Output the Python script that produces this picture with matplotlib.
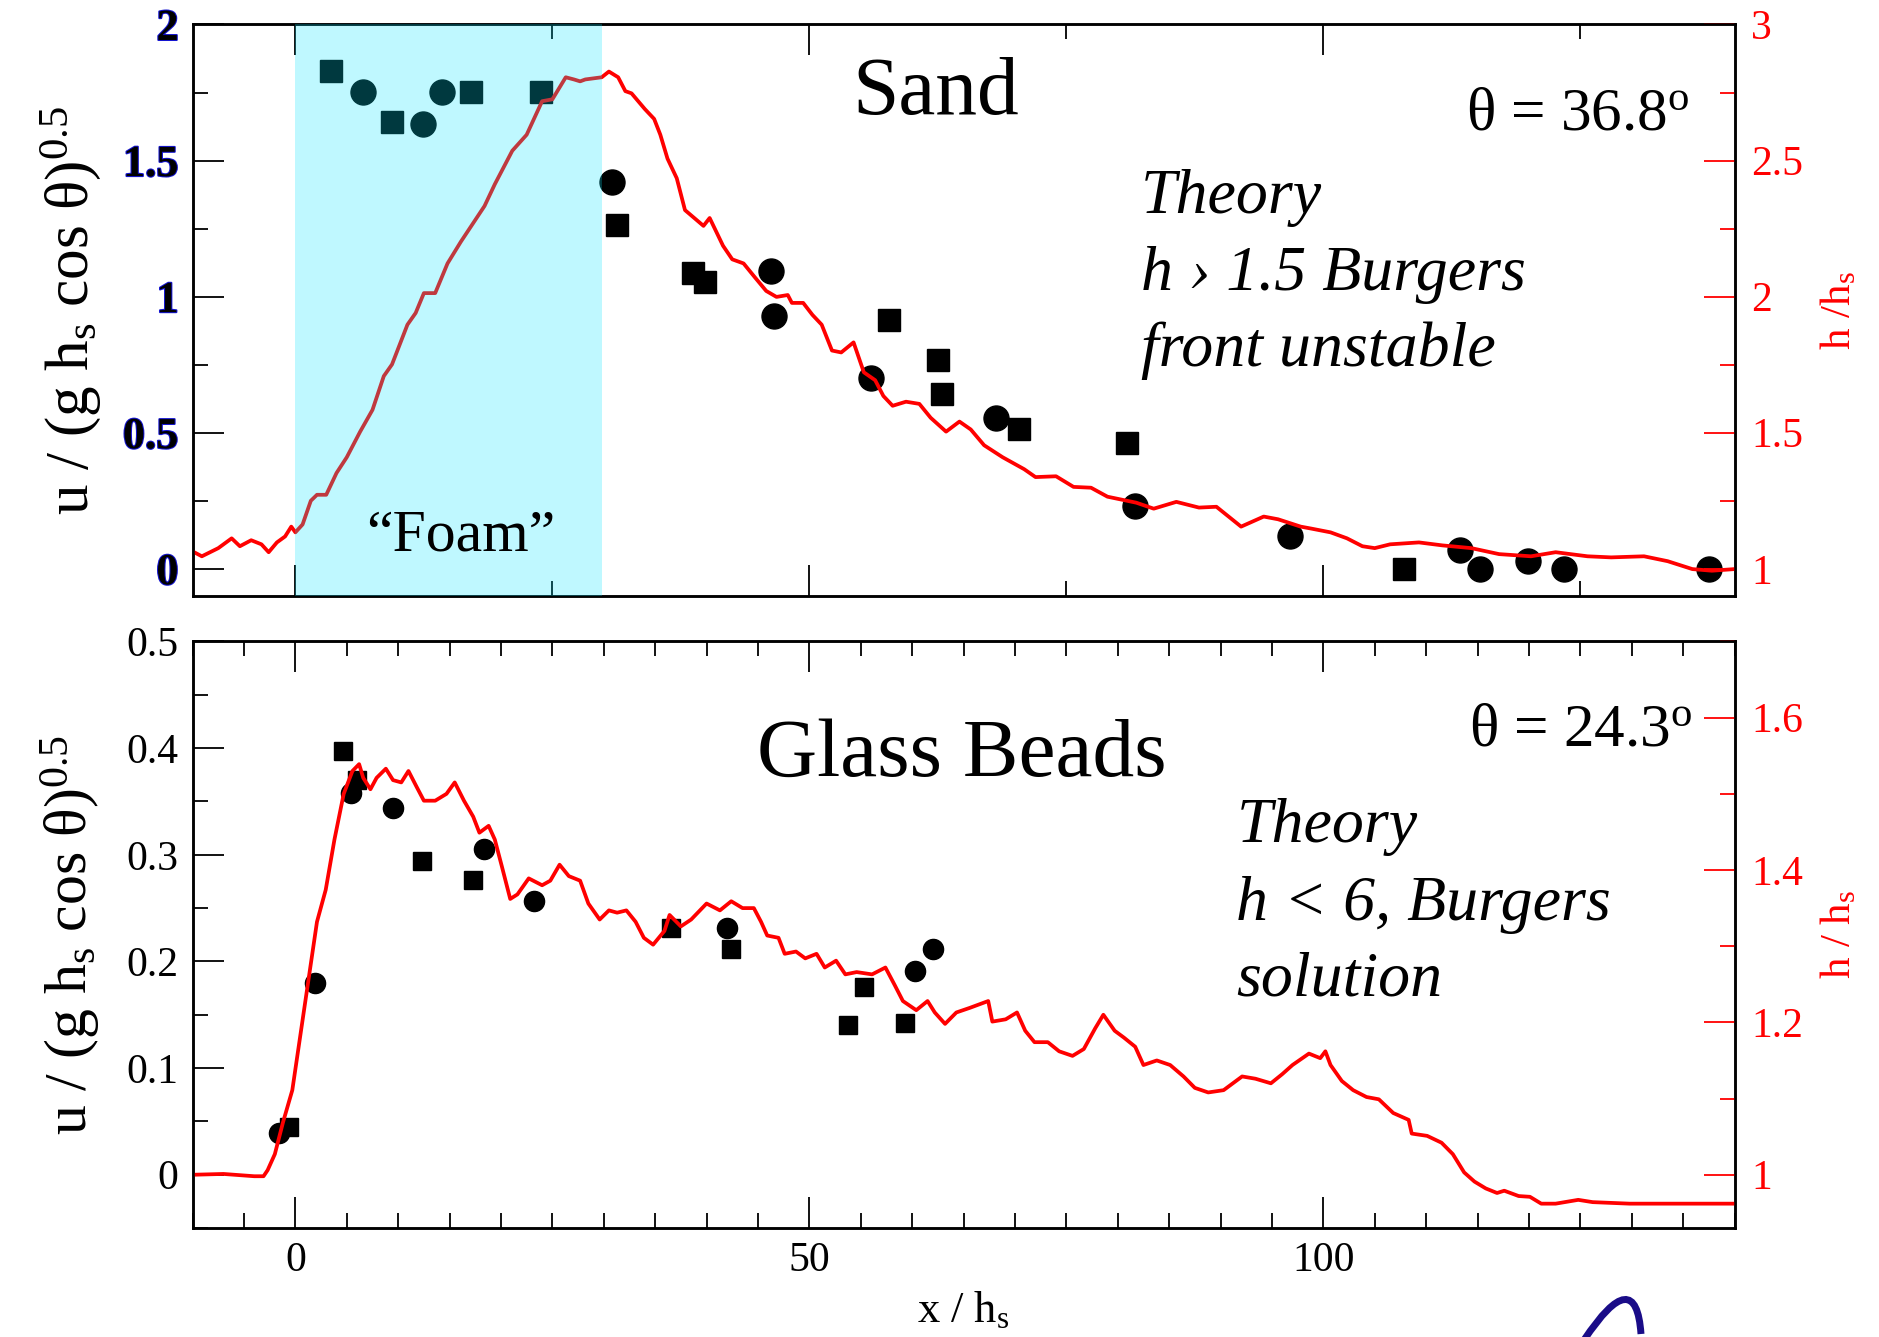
import matplotlib
matplotlib.use("Agg")
import matplotlib.pyplot as plt
import matplotlib.ticker as ticker
import matplotlib.patheffects as pe
from matplotlib.path import Path
from matplotlib.patches import PathPatch

plt.rcParams["font.family"] = ["Liberation Serif", "DejaVu Serif"]
plt.rcParams["mathtext.fontset"] = "custom"
plt.rcParams["mathtext.rm"] = "Liberation Serif"
plt.rcParams["mathtext.it"] = "Liberation Serif:italic"

# --- Sand, theta = 36.8 deg ---
sand_sq_x = [3.5, 9.4, 17.1, 23.9, 31.3, 38.7, 39.8, 57.7, 62.5, 62.9, 70.4, 80.9, 107.8]
sand_sq_u = [1.83, 1.64, 1.752, 1.752, 1.265, 1.086, 1.054, 0.914, 0.769, 0.643, 0.512, 0.461, 0.0]
sand_ci_x = [6.6, 12.4, 14.3, 30.8, 46.3, 46.6, 56.0, 68.2, 81.7, 96.8, 113.3, 115.2, 119.9, 123.4, 137.5]
sand_ci_u = [1.752, 1.633, 1.752, 1.42, 1.093, 0.93, 0.70, 0.555, 0.231, 0.119, 0.068, 0.0, 0.028, 0.0, 0.0]

sand_h_x = [-9.85, -9.1, -7.5, -6.2, -5.4, -4.3, -3.3, -2.6, -1.8, -1.0, -0.4, 0.0, 0.7, 1.5,
            2.1, 3.0, 4.0, 5.0, 6.3, 7.5, 8.6, 9.4, 10.9, 11.7, 12.5, 13.6, 14.8, 16.1, 18.4,
            19.4, 21.1, 22.5, 24.0, 25.0, 26.3, 27.1, 27.7, 28.2, 29.8, 30.5, 31.4, 32.1, 32.7,
            34.0, 34.9, 35.5, 36.2, 37.1, 37.9, 39.7, 40.3, 41.6, 42.5, 43.6, 44.7, 45.8, 46.8,
            47.9, 48.3, 49.4, 50.3, 51.2, 52.2, 53.1, 54.3, 55.3, 56.4, 57.2, 58.1, 59.4, 60.7,
            61.8, 63.3, 64.6, 65.7, 67.0, 68.8, 70.9, 72.0, 74.0, 75.7, 77.4, 79.0, 81.8, 83.5,
            85.7, 87.9, 89.6, 92.0, 94.2, 95.6, 97.8, 98.8, 100.7, 102.3, 103.8, 105.0, 106.5,
            109.3, 111.6, 114.4, 117.1, 120.2, 122.6, 125.7, 128.0, 131.2, 133.5, 135.9, 137.8, 140.0]
sand_h = [1.061, 1.046, 1.076, 1.112, 1.083, 1.105, 1.09, 1.061, 1.097, 1.119, 1.155, 1.134, 1.163, 1.25,
          1.272, 1.272, 1.352, 1.41, 1.504, 1.584, 1.708, 1.751, 1.897, 1.94, 2.013, 2.013, 2.122, 2.202, 2.333,
          2.413, 2.536, 2.595, 2.718, 2.725, 2.806, 2.798, 2.791, 2.798, 2.806, 2.827, 2.806, 2.755, 2.747,
          2.689, 2.653, 2.595, 2.507, 2.435, 2.318, 2.26, 2.289, 2.187, 2.137, 2.122, 2.071, 2.021, 1.999,
          2.006, 1.977, 1.977, 1.933, 1.897, 1.802, 1.795, 1.832, 1.722, 1.693, 1.635, 1.599, 1.614, 1.606,
          1.555, 1.504, 1.541, 1.512, 1.454, 1.41, 1.366, 1.337, 1.34, 1.301, 1.298, 1.265, 1.243, 1.221,
          1.246, 1.225, 1.228, 1.155, 1.192, 1.182, 1.155, 1.148, 1.134, 1.112, 1.083, 1.076, 1.09,
          1.097, 1.086, 1.076, 1.054, 1.046, 1.061, 1.046, 1.042, 1.046, 1.028, 0.999, 0.993, 0.999]

# --- Glass beads, theta = 24.3 deg ---
glass_sq_x = [-0.6, 4.6, 6.0, 12.3, 17.3, 36.5, 42.4, 53.8, 55.3, 59.3]
glass_sq_u = [0.045, 0.397, 0.37, 0.294, 0.276, 0.231, 0.212, 0.140, 0.176, 0.142]
glass_ci_x = [-1.6, 1.9, 5.4, 9.5, 18.3, 23.2, 42.0, 60.3, 62.0]
glass_ci_u = [0.039, 0.180, 0.358, 0.344, 0.305, 0.257, 0.231, 0.191, 0.212]

glass_h_x = [-9.8, -7.0, -4.0, -3.1, -2.7, -2.0, -1.2, -0.3, 0.35, 1.2, 2.1, 2.95, 3.8, 4.7, 5.55,
             6.2, 6.6, 7.3, 7.9, 8.8, 9.5, 10.3, 11.0, 11.8, 12.5, 13.6, 14.7, 15.5, 16.4, 17.3,
             17.9, 18.8, 19.4, 20.1, 20.9, 21.6, 22.7, 24.0, 24.8, 25.7, 26.6, 27.7, 28.5, 29.6,
             30.5, 31.3, 32.2, 33.1, 33.9, 34.8, 35.9, 36.4, 37.5, 38.5, 40.0, 41.3, 42.4, 43.5,
             44.6, 45.3, 45.9, 47.0, 47.6, 48.7, 49.6, 50.7, 51.5, 52.6, 53.5, 54.6, 56.1, 57.4,
             58.3, 59.1, 60.4, 61.5, 62.2, 63.2, 64.3, 65.6, 67.4, 67.8, 69.1, 70.2, 71.0, 71.9,
             73.2, 74.3, 75.6, 76.7, 77.8, 78.6, 79.7, 80.6, 81.7, 82.5, 83.8, 85.1, 86.4, 87.5,
             88.8, 90.3, 92.1, 93.4, 94.9, 96.0, 97.0, 98.6, 99.7, 100.2, 100.7, 101.8, 102.9,
             104.2, 105.4, 106.8, 108.3, 108.6, 110.1, 111.5, 112.6, 113.7, 114.7, 115.8, 116.9,
             117.6, 119.0, 120.1, 121.2, 122.6, 124.8, 126.2, 129.8, 133.4, 140.0]
glass_h = [1.0, 1.001, 0.998, 0.998, 1.006, 1.027, 1.069, 1.111, 1.171, 1.249, 1.332, 1.374, 1.44, 1.50, 1.53,
           1.539, 1.521, 1.506, 1.521, 1.533, 1.518, 1.515, 1.53, 1.509, 1.491, 1.491, 1.50, 1.515, 1.491, 1.47,
           1.449, 1.458, 1.44, 1.404, 1.362, 1.368, 1.389, 1.38, 1.386, 1.407, 1.392, 1.386, 1.356, 1.335,
           1.347, 1.344, 1.347, 1.332, 1.311, 1.302, 1.32, 1.341, 1.326, 1.335, 1.356, 1.347, 1.359, 1.35,
           1.35, 1.332, 1.314, 1.311, 1.29, 1.293, 1.284, 1.29, 1.272, 1.281, 1.263, 1.266, 1.263, 1.272,
           1.249, 1.228, 1.216, 1.228, 1.213, 1.198, 1.213, 1.219, 1.228, 1.201, 1.204, 1.213, 1.189, 1.174,
           1.174, 1.162, 1.156, 1.165, 1.192, 1.21, 1.189, 1.18, 1.168, 1.144, 1.15, 1.144, 1.129, 1.114,
           1.108, 1.111, 1.129, 1.126, 1.12, 1.132, 1.144, 1.159, 1.153, 1.162, 1.144, 1.123, 1.111,
           1.102, 1.099, 1.081, 1.072, 1.054, 1.051, 1.042, 1.027, 1.003, 0.991, 0.982, 0.976,
           0.979, 0.972, 0.971, 0.962, 0.962, 0.967, 0.964, 0.962, 0.962, 0.962]

RED = "#ff0000"
TICK_FS = 30

fig = plt.figure(figsize=(18.79, 13.37), dpi=100)
ax_top = fig.add_axes([0.1025, 0.5542, 0.8206, 0.4275])
ax_bot = fig.add_axes([0.1025, 0.0815, 0.8206, 0.4387])
top_h = ax_top.twinx()
bot_h = ax_bot.twinx()

fmt = ticker.FormatStrFormatter("%g")


def style_axes(ax, axh, x_minor, y_major, y_minor, h_major, h_minor):
    for a in (ax, axh):
        for s in a.spines.values():
            s.set_linewidth(1.8)
    ax.set_xlim(-10, 140)
    ax.xaxis.set_major_locator(ticker.MultipleLocator(50))
    ax.xaxis.set_minor_locator(ticker.MultipleLocator(x_minor))
    ax.yaxis.set_major_locator(ticker.MultipleLocator(y_major))
    ax.yaxis.set_minor_locator(ticker.MultipleLocator(y_minor))
    ax.yaxis.set_major_formatter(fmt)
    ax.tick_params(which="both", direction="in", top=True, bottom=True,
                   left=True, right=False, width=1.3, labelsize=TICK_FS)
    ax.tick_params(which="major", length=22)
    ax.tick_params(which="minor", length=11)
    ax.tick_params(axis="y", pad=10)
    ax.tick_params(axis="x", pad=10)
    axh.yaxis.set_major_locator(ticker.MultipleLocator(h_major))
    axh.yaxis.set_minor_locator(ticker.MultipleLocator(h_minor))
    axh.yaxis.set_major_formatter(fmt)
    axh.tick_params(which="both", direction="in", color=RED, labelcolor=RED,
                    width=1.3, labelsize=TICK_FS, pad=12)
    axh.tick_params(which="major", length=22)
    axh.tick_params(which="minor", length=11)


# ---------------- top panel: sand ----------------
style_axes(ax_top, top_h, 25, 0.5, 0.25, 0.5, 0.25)
ax_top.set_ylim(-0.1, 2.0)
top_h.set_ylim(0.9, 3.0)
ax_top.tick_params(axis="x", labelbottom=False)
for lab in ax_top.get_yticklabels():
    lab.set_fontweight("bold")
    lab.set_fontsize(32)
    lab.set_path_effects([pe.withStroke(linewidth=1.5, foreground="#1515d0")])

ax_top.plot(sand_sq_x, sand_sq_u, "s", color="black", ms=16, zorder=3)
ax_top.plot(sand_ci_x, sand_ci_u, "o", color="black", ms=18, zorder=3)
top_h.plot(sand_h_x, sand_h, color=RED, lw=2.7, solid_joinstyle="round")

# translucent cyan band over the foam region (drawn over markers and line)
top_h.axvspan(0, 29.8, color=(0.0, 0.9, 1.0), alpha=0.25, lw=0, zorder=10)

ax_top.set_ylabel(r"u / (g h$_\mathrm{s}$ cos θ)$^{0.5}$", fontsize=44)
ax_top.yaxis.set_label_coords(-0.058, 0.5)
top_h.set_ylabel(r"h /h$_\mathrm{s}$", fontsize=31, color=RED)
top_h.yaxis.set_label_coords(1.055, 0.5)

top_h.text(0.482, 0.843, "Sand", transform=top_h.transAxes, fontsize=60,
           ha="center", va="baseline", zorder=12)
top_h.text(0.971, 0.817, r"θ = 36.8$^\mathrm{o}$", transform=top_h.transAxes,
           fontsize=44, ha="right", va="baseline", zorder=12)
for txt, yy in zip(["Theory", "h › 1.5 Burgers", "front unstable"], [0.670, 0.535, 0.403]):
    top_h.text(0.615, yy, txt, transform=top_h.transAxes, fontsize=46,
               style="italic", ha="left", va="baseline", zorder=12)
top_h.text(0.174, 0.079, "“Foam”", transform=top_h.transAxes, fontsize=43,
           ha="center", va="baseline", zorder=12)

# ---------------- bottom panel: glass beads ----------------
style_axes(ax_bot, bot_h, 5, 0.1, 0.05, 0.2, 0.1)
ax_bot.set_ylim(-0.05, 0.5)
bot_h.set_ylim(0.93, 1.70)

ax_bot.plot(glass_sq_x, glass_sq_u, "s", color="black", ms=13.5, zorder=3)
ax_bot.plot(glass_ci_x, glass_ci_u, "o", color="black", ms=14.5, zorder=3)
bot_h.plot(glass_h_x, glass_h, color=RED, lw=2.7, solid_joinstyle="round")

ax_bot.set_ylabel(r"u / (g h$_\mathrm{s}$ cos θ)$^{0.5}$", fontsize=43)
ax_bot.yaxis.set_label_coords(-0.058, 0.5)
bot_h.set_ylabel(r"h / h$_\mathrm{s}$", fontsize=31, color=RED)
bot_h.yaxis.set_label_coords(1.055, 0.5)
ax_bot.set_xlabel(r"x / h$_\mathrm{s}$", fontsize=32)
ax_bot.xaxis.set_label_coords(0.5, -0.105)

bot_h.text(0.499, 0.7715, "Glass Beads", transform=bot_h.transAxes, fontsize=60,
           ha="center", va="baseline")
bot_h.text(0.973, 0.822, r"θ = 24.3$^\mathrm{o}$", transform=bot_h.transAxes,
           fontsize=44, ha="right", va="baseline")
for txt, yy in zip(["Theory", "h < 6, Burgers", "solution"], [0.6585, 0.526, 0.397]):
    bot_h.text(0.677, yy, txt, transform=bot_h.transAxes, fontsize=46,
               style="italic", ha="left", va="baseline")

# corner of the logo peeking in at the bottom edge: one curved stroke
W, H = 1879.0, 1337.0
arc_px = [(1584, 1340), (1636, 1262), (1641, 1334)]
arc = Path([(x / W, 1 - y / H) for x, y in arc_px], [Path.MOVETO, Path.CURVE3, Path.CURVE3])
fig.patches.append(PathPatch(arc, transform=fig.transFigure, facecolor="none",
                             edgecolor="#1a0c88", lw=5, capstyle="butt"))

fig.savefig("out.png", dpi=100)
